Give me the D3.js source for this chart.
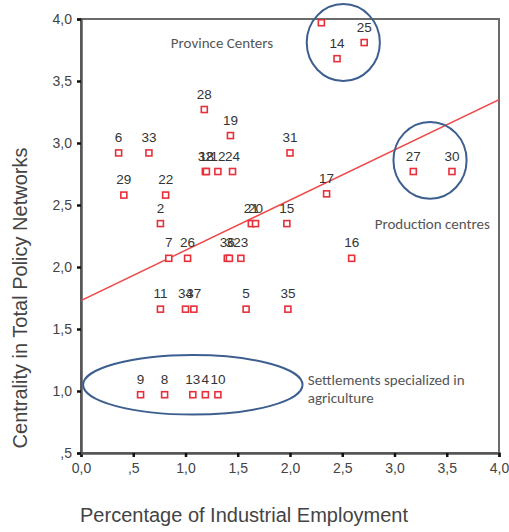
<!DOCTYPE html>
<html>
<head>
<meta charset="utf-8">
<script src="https://cdn.jsdelivr.net/npm/d3@7"></script>
<style>
  body { margin: 0; background: #fff; }
  text { font-family: "Liberation Sans", Arial, sans-serif; }
</style>
</head>
<body>
<div id="chart"></div>
<script>
// data
var labels = ["6", "33", "28", "19", "32", "18", "12", "24", "31", "", "14", "25",
              "27", "30", "29", "22", "2", "21", "20", "15", "17", "7", "26", "36", "3", "23",
              "16", "11", "34", "37", "5", "35", "9", "8", "13", "4", "10"];
var industrial = [0.36, 0.65, 1.18, 1.43, 1.19, 1.20, 1.31, 1.45, 2.00, 2.30, 2.45, 2.71,
                  3.18, 3.55, 0.41, 0.81, 0.76, 1.63, 1.67, 1.97, 2.35, 0.84, 1.02, 1.40, 1.42, 1.53,
                  2.59, 0.76, 1.00, 1.08, 1.58, 1.98, 0.57, 0.80, 1.07, 1.19, 1.31];
var centrality = [2.92, 2.92, 3.27, 3.06, 2.77, 2.77, 2.77, 2.77, 2.92, 3.97, 3.68, 3.81,
                  2.77, 2.77, 2.58, 2.58, 2.35, 2.35, 2.35, 2.35, 2.59, 2.07, 2.07, 2.07, 2.07, 2.07,
                  2.07, 1.66, 1.66, 1.66, 1.66, 1.66, 0.97, 0.97, 0.97, 0.97, 0.97];

var xTicks = [0, 0.5, 1, 1.5, 2, 2.5, 3, 3.5, 4];
var yTicks = [0.5, 1, 1.5, 2, 2.5, 3, 3.5, 4];
var xTickLabels = ["0,0", ",5", "1,0", "1,5", "2,0", "2,5", "3,0", "3,5", "4,0"];
var yTickLabels = [",5", "1,0", "1,5", "2,0", "2,5", "3,0", "3,5", "4,0"];

// fit line (intercept / end value)
var fitX = [0, 4];
var fitY = [1.73, 3.35];

// group ellipses: centre x, centre y, radius x, radius y (data units)
var groupNames = ["Province Centers", "Production centres", "Settlements specialized in agriculture"];
var groupCx = [2.51, 3.34, 1.07];
var groupCy = [3.81, 2.86, 1.05];
var groupRx = [0.35, 0.35, 1.05];
var groupRy = [0.31, 0.31, 0.24];

var data = labels.map(function(l, i) {
  return {label: l, x: industrial[i], y: centrality[i]};
});

var margin = {top: 19, right: 10, bottom: 79, left: 81},
    width = 509 - margin.left - margin.right,
    height = 532 - margin.top - margin.bottom;

var svg = d3.select("#chart")
  .append("svg")
    .attr("width", 509)
    .attr("height", 532)
  .append("g")
    .attr("transform", "translate(" + margin.left + "," + margin.top + ")");

var x = d3.scaleLinear().domain([0, 4]).range([0, 418]);
var y = d3.scaleLinear().domain([0.5, 4]).range([434, 0]);

// frame
svg.append("rect")
  .attr("x", 0).attr("y", 0)
  .attr("width", x(4)).attr("height", y(0.5))
  .style("fill", "none")
  .style("stroke", "#6b6b6b")
  .style("stroke-width", 2);

// axes
var xAxis = svg.append("g")
  .attr("transform", "translate(0," + y(0.5) + ")")
  .call(d3.axisBottom(x).tickValues(xTicks).tickSize(4).tickPadding(6)
    .tickFormat(function(d, i) { return xTickLabels[i]; }));
var yAxis = svg.append("g")
  .call(d3.axisLeft(y).tickValues(yTicks).tickSize(4).tickPadding(5)
    .tickFormat(function(d, i) { return yTickLabels[i]; }));

[xAxis, yAxis].forEach(function(a) {
  a.select(".domain").style("stroke", "#555").style("stroke-width", 2.5);
  a.selectAll(".tick line").style("stroke", "#111").style("stroke-width", 2.5);
  a.selectAll(".tick text").style("font-size", "14px").style("fill", "#444");
});

// clip for points and labels
svg.append("clipPath").attr("id", "plotclip")
  .append("rect").attr("width", x(4)).attr("height", y(0.5));

var plot = svg.append("g").attr("clip-path", "url(#plotclip)");

// fit line
plot.append("line")
  .attr("x1", x(fitX[0])).attr("y1", y(fitY[0]))
  .attr("x2", x(fitX[1])).attr("y2", y(fitY[1]))
  .style("stroke", "#ee4a4a")
  .style("stroke-width", 1.5);

// points
plot.selectAll(".pt")
  .data(data)
  .enter().append("rect")
    .attr("class", "pt")
    .attr("x", function(d) { return x(d.x) - 3; })
    .attr("y", function(d) { return y(d.y) - 3; })
    .attr("width", 6).attr("height", 6)
    .style("fill", "#fff")
    .style("stroke", "#e8303a")
    .style("stroke-width", 1.6);

plot.selectAll(".lbl")
  .data(data)
  .enter().append("text")
    .attr("class", "lbl")
    .attr("x", function(d) { return x(d.x); })
    .attr("y", function(d) { return y(d.y) - 11; })
    .attr("text-anchor", "middle")
    .style("font-size", "13.5px")
    .style("fill", "#333")
    .text(function(d) { return d.label; });

// group ellipses
svg.selectAll(".grp")
  .data(groupNames)
  .enter().append("ellipse")
    .attr("class", "grp")
    .attr("cx", function(d, i) { return x(groupCx[i]); })
    .attr("cy", function(d, i) { return y(groupCy[i]); })
    .attr("rx", function(d, i) { return x(groupRx[i]) - x(0); })
    .attr("ry", function(d, i) { return y(0.5) - y(0.5 + groupRy[i]); })
    .style("fill", "none")
    .style("stroke", "#3d5f8f")
    .style("stroke-width", 2);

// annotation texts
var note = function(tx, ty, str) {
  svg.append("text")
    .attr("x", x(tx)).attr("y", y(ty))
    .style("font-family", "Carlito, 'Open Sans', sans-serif")
    .style("font-size", "15px")
    .style("fill", "#555")
    .text(str);
};
note(0.86, 3.77, "Province Centers");
note(2.81, 2.31, "Production centres");
note(2.17, 1.045, "Settlements specialized in");
note(2.17, 0.9, "agriculture");

// axis titles
svg.append("text")
  .attr("x", 244 - margin.left)
  .attr("y", 522 - margin.top)
  .attr("text-anchor", "middle")
  .style("font-size", "20px")
  .style("fill", "#444")
  .text("Percentage of Industrial Employment");

svg.append("text")
  .attr("transform", "rotate(-90)")
  .attr("x", -(298 - margin.top))
  .attr("y", 27 - margin.left)
  .attr("text-anchor", "middle")
  .style("font-size", "20px")
  .style("fill", "#444")
  .text("Centrality in Total Policy Networks");
</script>
</body>
</html>
